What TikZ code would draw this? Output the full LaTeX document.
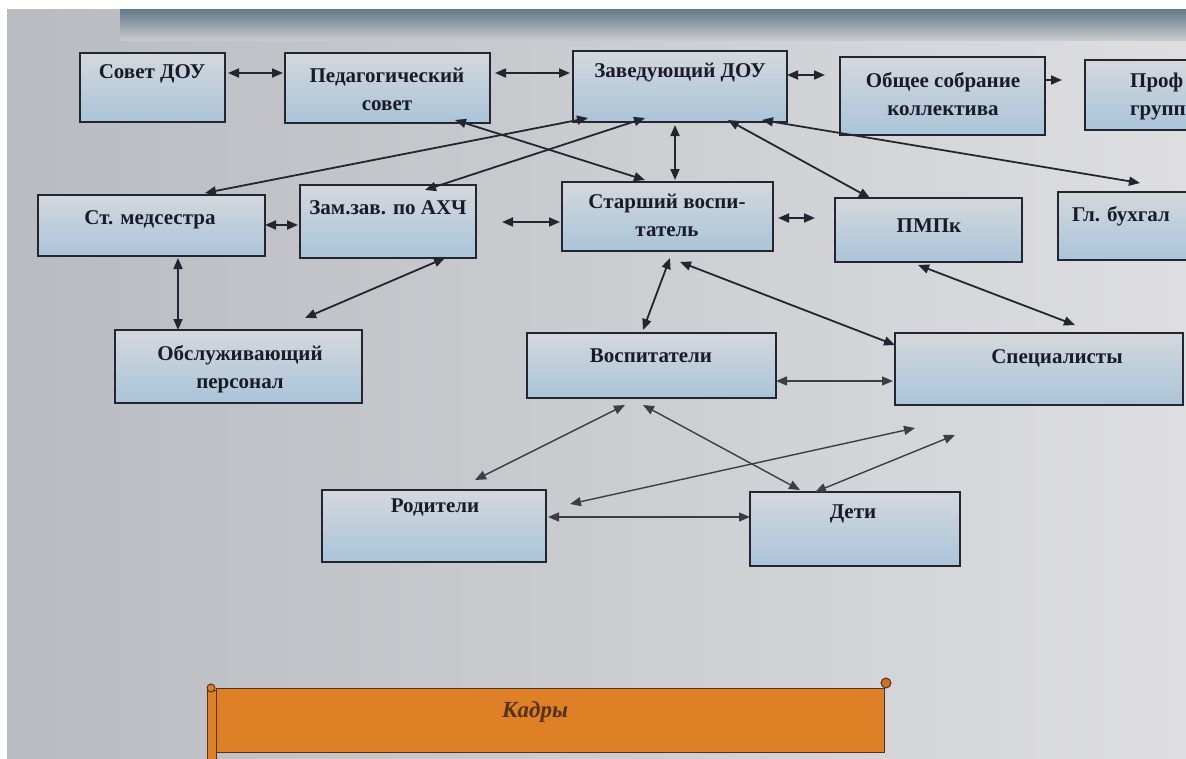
\documentclass[tikz,border=0pt]{standalone}
\usepackage{fontspec}
\setmainfont{Liberation Serif}
\usetikzlibrary{arrows.meta,calc}
\definecolor{bgL}{RGB}{184,187,192}
\definecolor{bgR}{RGB}{222,222,225}
\definecolor{band}{RGB}{98,120,136}
\definecolor{boxT}{RGB}{212,216,220}
\definecolor{boxB}{RGB}{170,196,218}
\definecolor{ink}{RGB}{35,38,48}
\definecolor{ink2}{RGB}{60,62,70}
\definecolor{txt}{RGB}{25,28,40}
\definecolor{orng}{RGB}{222,128,38}
\definecolor{brn}{RGB}{85,50,25}
\begin{document}
\begin{tikzpicture}[x=1pt,y=-1pt,
  box/.style={draw=ink,line width=1.4pt,top color=boxT,bottom color=boxB,anchor=north west,inner sep=0pt,outer sep=0pt},
  lbl/.style={font=\fontsize{21}{28}\selectfont\bfseries,text=txt,align=center,inner sep=0pt},
  arr/.style={{Triangle[length=11pt,width=9pt]}-{Triangle[length=11pt,width=9pt]},line width=1.8pt,draw=ink},
  arrl/.style={{Triangle[length=11pt,width=9pt]}-{Triangle[length=11pt,width=9pt]},line width=1.4pt,draw=ink2},
  arrone/.style={-{Triangle[length=11pt,width=9pt]},line width=1.8pt,draw=ink}]
\useasboundingbox (0,0) rectangle (1186,758);
\clip (0,0) rectangle (1186,758);
\fill[white] (0,0) rectangle (1186,758);
\shade[left color=bgL,right color=bgR] (7,9) rectangle (1186,758);
\shade[top color=band,bottom color=bgL!60!bgR] (120,9) rectangle (1186,40);

% boxes
\node[box,minimum width=145pt,minimum height=69pt] (sovet) at (80,53) {};
\node[box,minimum width=205pt,minimum height=70pt] (ped) at (285,53) {};
\node[box,minimum width=214pt,minimum height=71pt] (zav) at (573,51) {};
\node[box,minimum width=205pt,minimum height=78pt] (obsh) at (840,57) {};
\node[box,minimum width=130pt,minimum height=70pt] (prof) at (1085,60) {};
\node[box,minimum width=227pt,minimum height=61pt] (med) at (38,195) {};
\node[box,minimum width=176pt,minimum height=73pt] (zam) at (300,185) {};
\node[box,minimum width=211pt,minimum height=69pt] (star) at (562,182) {};
\node[box,minimum width=187pt,minimum height=64pt] (pmpk) at (835,198) {};
\node[box,minimum width=150pt,minimum height=68pt] (buh) at (1058,192) {};
\node[box,minimum width=247pt,minimum height=73pt] (obsl) at (115,330) {};
\node[box,minimum width=249pt,minimum height=65pt] (vosp) at (527,333) {};
\node[box,minimum width=288pt,minimum height=72pt] (spec) at (895,333) {};
\node[box,minimum width=224pt,minimum height=72pt] (rod) at (322,490) {};
\node[box,minimum width=210pt,minimum height=74pt] (deti) at (750,492) {};

% labels
\node[lbl] (tsovet) at (152,74) {Совет ДОУ};
\node[lbl] (tped) at (387,89) {Педагогический\\совет};
\node[lbl] (tzav) at (680,73) {Заведующий ДОУ};
\node[lbl] (tobsh) at (943,94) {Общее собрание\\коллектива};
\node[lbl,align=left,anchor=west] (tprof) at (1130,96) {Проф\\групп};
\node[lbl,anchor=west] (tbuh) at (1072,216) {Гл. бухгал};
\node[lbl] (tmed) at (150,220) {Ст. медсестра};
\node[lbl] (tzam) at (388,208) {Зам.зав. по АХЧ};
\node[lbl] (tstar) at (667,215) {Старший воспи-\\татель};
\node[lbl] (tpmpk) at (929,226) {ПМПк};
\node[lbl] (tobsl) at (240,369) {Обслуживающий\\персонал};
\node[lbl] (tvosp) at (651,356) {Воспитатели};
\node[lbl] (tspec) at (1057,358) {Специалисты};
\node[lbl] (trod) at (435,507) {Родители};
\node[lbl] (tdeti) at (853,514) {Дети};

% connectors
\draw[arr] ($(sovet.north west)+(148,20)$) -- ($(ped.north west)+(-2,20)$);
\draw[arr] ($(ped.north west)+(210,20)$) -- ($(zav.north west)+(-3,22)$);
\draw[arr] ($(zav.north west)+(214,24)$) -- ($(obsh.north west)+(-15,18)$);
\draw[arrone] ($(obsh.north west)+(205,23)$) -- ($(prof.north west)+(-23,20)$);
\draw[arr] ($(zav.north west)+(15,67)$) -- ($(med.north west)+(167,-2)$);
\draw[arr] ($(zav.north west)+(72,67)$) -- ($(zam.north west)+(125,5)$);
\draw[arr] ($(ped.north west)+(170,67)$) -- ($(star.north west)+(83,-2)$);
\draw[arr] ($(zav.north west)+(102,74)$) -- ($(star.north west)+(113,-2)$);
\draw[arr] ($(zav.north west)+(155,69)$) -- ($(pmpk.north west)+(35,0)$);
\draw[arr] ($(zav.north west)+(189,69)$) -- ($(buh.north west)+(82,-9)$);
\draw[arr] ($(med.north west)+(227,30)$) -- ($(zam.north west)+(-2,40)$);
\draw[arr] ($(zam.north west)+(202,37)$) -- ($(star.north west)+(-2,40)$);
\draw[arr] ($(star.north west)+(216,36)$) -- ($(pmpk.north west)+(-20,20)$);
\draw[arr] ($(med.north west)+(140,63)$) -- ($(obsl.north west)+(63,0)$);
\draw[arr] ($(zam.north west)+(145,73)$) -- ($(obsl.north west)+(190,-12)$);
\draw[arr] ($(star.north west)+(108,76)$) -- ($(vosp.north west)+(116,-3)$);
\draw[arr] ($(star.north west)+(118,80)$) -- ($(spec.north west)+(0,12)$);
\draw[arr] ($(pmpk.north west)+(83,67)$) -- ($(spec.north west)+(180,-8)$);
\draw[arrl] ($(vosp.north west)+(249,48)$) -- ($(spec.north west)+(-2,48)$);
\draw[arrl] ($(vosp.north west)+(98,72)$) -- ($(rod.north west)+(153,-10)$);
\draw[arrl] ($(vosp.north west)+(116,72)$) -- ($(deti.north west)+(50,-2)$);
\draw[arrl] ($(rod.north west)+(248,14)$) -- ($(spec.north west)+(20,95)$);
\draw[arrl] ($(deti.north west)+(65,0)$) -- ($(spec.north west)+(60,102)$);
\draw[arrl] ($(rod.north west)+(226,27)$) -- ($(deti.north west)+(0,25)$);

% banner
\draw[draw=brn,fill=orng,line width=1pt] (207,690) rectangle (216,760);
\node[draw=brn,fill=orng,line width=1pt,anchor=north west,inner sep=0pt,outer sep=0pt,minimum width=668pt,minimum height=64pt] (kadry) at (216,688) {};
\draw[draw=brn,fill=orng,line width=1pt] (211,688) circle (4);
\draw[draw=brn,fill=orng!90!black,line width=1pt] (886,683) circle (5);
\node[font=\fontsize{23}{23}\selectfont\itshape\bfseries,text=brn] (tkadry) at (535,712) {Кадры};
\end{tikzpicture}
\end{document}
